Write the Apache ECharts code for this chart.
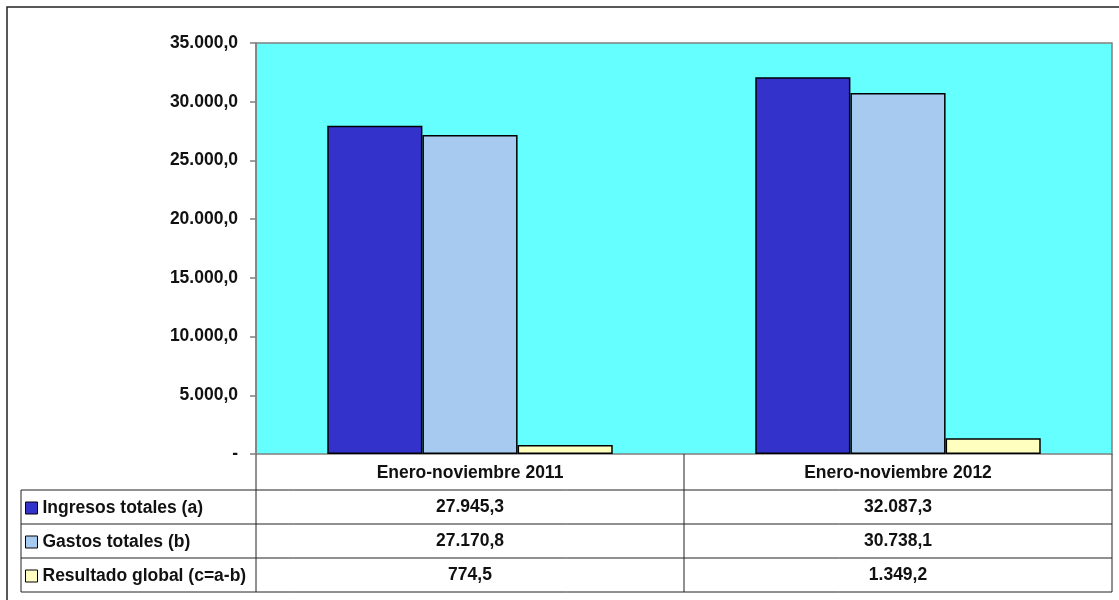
<!DOCTYPE html>
<html>
<head>
<meta charset="utf-8">
<script src="https://cdn.jsdelivr.net/npm/echarts@6/dist/echarts.min.js"></script>
<style>
html,body{margin:0;padding:0;background:#fff;}
#chart{width:1119px;height:600px;}
</style>
</head>
<body>
<div id="chart"></div>
<script>
const categories = ['Enero-noviembre 2011', 'Enero-noviembre 2012'];
const seriesNames = ['Ingresos totales (a)', 'Gastos totales (b)', 'Resultado global (c=a-b)'];
const ingresos = [27945.3, 32087.3];
const gastos = [27170.8, 30738.1];
const resultado = [774.5, 1349.2];
const yTicks = [0, 5000, 10000, 15000, 20000, 25000, 30000, 35000];

const colors = ['#3333CC', '#A6CAF0', '#FFFFC0'];
const FONT = 'Liberation Sans, Arial, sans-serif';
const FS = 17.5;

function fmt(v) {
  if (v === 0) return '-';
  const parts = v.toFixed(1).split('.');
  const intPart = parts[0].replace(/\B(?=(\d{3})+(?!\d))/g, '.');
  return intPart + ',' + parts[1];
}

const allSeries = [ingresos, gastos, resultado];
const chart = echarts.init(document.getElementById('chart'), null, {renderer: 'canvas'});

const labelBase = {
  fontFamily: FONT, fontWeight: 'bold', fontSize: FS, color: '#111', lineHeight: 18, interval: 0
};
const rowMargins = [44, 78, 112];

const xAxes = [{
  type: 'category', data: categories, position: 'bottom', gridIndex: 0,
  axisLine: {show: false}, axisTick: {show: false},
  axisLabel: Object.assign({}, labelBase, {margin: 10})
}];
allSeries.forEach((arr, i) => {
  xAxes.push({
    type: 'category', data: arr.map(fmt), position: 'bottom', offset: 0, gridIndex: 0,
    axisLine: {show: false}, axisTick: {show: false}, splitLine: {show: false},
    axisLabel: Object.assign({}, labelBase, {margin: rowMargins[i]})
  });
});

const lineStyle = {stroke: '#222', lineWidth: 1};
const hLines = [490, 524, 558, 592].map(y => ({
  type: 'line', shape: {x1: 21, y1: y, x2: 1112, y2: y}, style: lineStyle, silent: true
}));
const vLines = [
  {type: 'line', shape: {x1: 21, y1: 490, x2: 21, y2: 592}, style: lineStyle},
  {type: 'line', shape: {x1: 256, y1: 454, x2: 256, y2: 592}, style: lineStyle},
  {type: 'line', shape: {x1: 684, y1: 454, x2: 684, y2: 592}, style: lineStyle},
  {type: 'line', shape: {x1: 1112, y1: 454, x2: 1112, y2: 592}, style: lineStyle}
];

const option = {
  animation: false,
  backgroundColor: '#fff',
  textStyle: {fontFamily: FONT},
  grid: {
    left: 256, right: 7, top: 43, bottom: 146,
    show: true, backgroundColor: '#66FFFF', borderColor: '#808080', borderWidth: 1.5
  },
  legend: {
    orient: 'vertical', left: 25, top: 499, padding: 0,
    itemWidth: 12, itemHeight: 12, itemGap: 16,
    selectedMode: false,
    icon: 'rect',
    itemStyle: {borderColor: '#000', borderWidth: 1},
    textStyle: {fontFamily: FONT, fontWeight: 'bold', fontSize: FS, color: '#111', lineHeight: 18},
    data: seriesNames
  },
  xAxis: xAxes,
  yAxis: {
    type: 'value', min: yTicks[0], max: yTicks[yTicks.length - 1], interval: 5000,
    axisLine: {show: true, lineStyle: {color: '#808080', width: 1.5}},
    axisTick: {show: true, length: 6, lineStyle: {color: '#808080', width: 1.5}},
    splitLine: {show: false},
    axisLabel: {
      formatter: fmt, margin: 18,
      fontFamily: FONT, fontWeight: 'bold', fontSize: FS, color: '#111'
    }
  },
  series: allSeries.map((arr, i) => ({
    name: seriesNames[i], type: 'bar', data: arr, xAxisIndex: 0,
    barCategoryGap: '33.3%', barGap: '0%',
    itemStyle: {color: colors[i], borderColor: '#000', borderWidth: 1.5}
  })),
  graphic: [
    {type: 'rect', shape: {x: 7, y: 7, width: 1130, height: 620}, style: {fill: null, stroke: '#222', lineWidth: 1.5}, silent: true, z: 100}
  ].concat(hLines, vLines)
};
chart.setOption(option);
</script>
</body>
</html>
